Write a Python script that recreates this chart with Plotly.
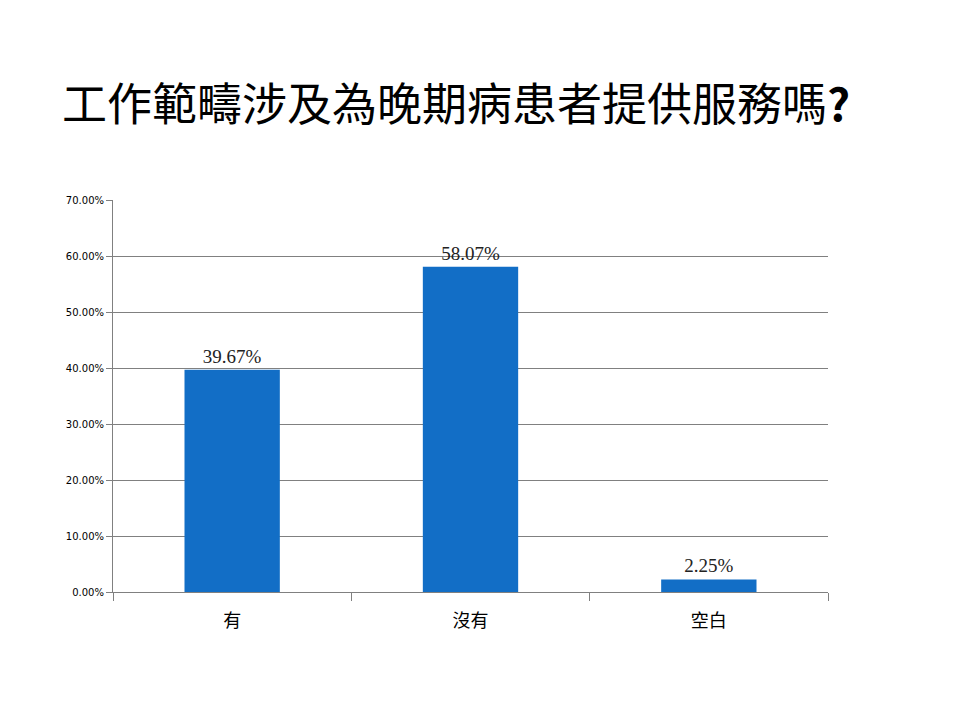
import plotly.graph_objects as go

categories = ["有", "沒有", "空白"]
shares = [0.3967, 0.5807, 0.0225]
labels = ["39.67%", "58.07%", "2.25%"]
title_text = "工作範疇涉及為晚期病患者提供服務嗎<b>?</b>"

fig = go.Figure(go.Bar(
    x=categories, y=shares, width=0.4,
    marker=dict(color="#126EC6", line=dict(width=0)),
    text=labels, textposition="outside", cliponaxis=False,
    textfont=dict(family="Liberation Serif, serif", size=19, color="#222222"),
))

# page body adds an 8px offset, so margins are shifted to compensate
fig.update_layout(
    width=960, height=720,
    paper_bgcolor="white", plot_bgcolor="white",
    margin=dict(l=105, r=140, t=192, b=136),
    showlegend=False,
    title=dict(
        text=title_text, x=54 / 960, xanchor="left", y=1 - 97 / 720, yanchor="middle",
        font=dict(family="Noto Sans CJK TC, sans-serif", size=45, color="black"),
    ),
    xaxis=dict(
        showline=True, linecolor="#808080", linewidth=1,
        ticks="outside", tickson="boundaries", ticklen=8, tickcolor="#808080",
        ticklabelstandoff=12,
        tickfont=dict(family="Noto Sans CJK TC, sans-serif", size=18, color="black"),
        showgrid=False,
    ),
    yaxis=dict(
        range=[0, 0.7], dtick=0.1, tickformat=".2%",
        showline=True, linecolor="#808080", linewidth=1,
        ticks="outside", ticklen=6, tickcolor="#808080",
        showgrid=True, gridcolor="#808080", gridwidth=1,
        zeroline=False,
        tickfont=dict(family="DejaVu Sans, sans-serif", size=10, color="black"),
    ),
)

fig.write_html("out.html")
